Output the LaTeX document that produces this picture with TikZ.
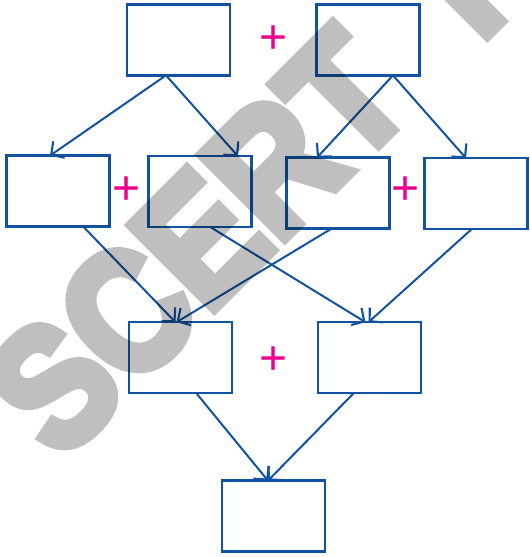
\documentclass[tikz,border=0pt]{standalone}
\usepackage{fontspec}
\setmainfont{Liberation Sans}
\newfontfamily\wmfont{Liberation Sans Bold}[FakeBold=6]
\usetikzlibrary{arrows.meta,calc}
\definecolor{boxblue}{RGB}{18,82,160}
\definecolor{plusmag}{RGB}{236,0,140}
\begin{document}
\begin{tikzpicture}[x=0.75pt,y=-0.75pt,
  bx/.style={draw=boxblue,line width=1.9pt,minimum width=77pt,minimum height=53pt,inner sep=0pt,outer sep=0pt},
  conn/.style={draw=boxblue,line width=1.5pt,-{Straight Barb[length=7pt,width=15pt,line width=1.6pt]}},
  plus/.style={text=plusmag,font=\fontsize{36}{36}\selectfont,inner sep=0pt}]
\useasboundingbox (0,0) rectangle (529,557);
% boxes
\node[bx] (A) at (178.5,40) {};
\node[bx] (B) at (368,40) {};
\node[bx] (C) at (58,191) {};
\node[bx] (D) at (200,191.5) {};
\node[bx] (E) at (338,193) {};
\node[bx] (F) at (476,193.5) {};
\node[bx] (G) at (180.5,357.5) {};
\node[bx] (H) at (369.5,357.5) {};
\node[bx] (I) at (273.5,516) {};
% plus signs
\node[plus] (p1) at (274,40) {+};
\node[plus] (p2) at (127,191) {+};
\node[plus] (p3) at (406,191) {+};
\node[plus] (p4) at (274,361) {+};
% connectors
\draw[conn] ($(A.south)+(-12.5,0)$) -- ($(C.north)+(-8,0)$);
\draw[conn] ($(A.south)+(-12.5,0)$) -- ($(D.north)+(38,0)$);
\draw[conn] ($(B.south)+(25,0)$) -- ($(E.north)+(-21,0)$);
\draw[conn] ($(B.south)+(25,0)$) -- ($(F.north)+(-10,0)$);
\draw[conn] ($(C.south)+(25,0)$) -- ($(G.north)+(-5,0)$);
\draw[conn] ($(D.south)+(10,0)$) -- ($(H.north)+(-4,0)$);
\draw[conn] ($(E.south)+(-6,0)$) -- ($(G.north)+(-4,0)$);
\draw[conn] ($(F.south)+(-4,0)$) -- ($(H.north)+(-1,0)$);
\draw[conn] ($(G.south)+(15.5,0)$) -- ($(I.north)+(-5.5,0)$);
\draw[conn] ($(H.south)+(-15.5,0)$) -- ($(I.north)+(-5.5,0)$);
% watermark
\begin{scope}[transparency group,opacity=0.25]
\node[rotate=45,yscale=1.15,anchor=base west,inner sep=0pt,text=black,
  font=\fontsize{112}{112}\wmfont] (wm) at (60,463) {SCERT\hspace{0.42em}TELANGANA};
\end{scope}
\end{tikzpicture}
\end{document}
